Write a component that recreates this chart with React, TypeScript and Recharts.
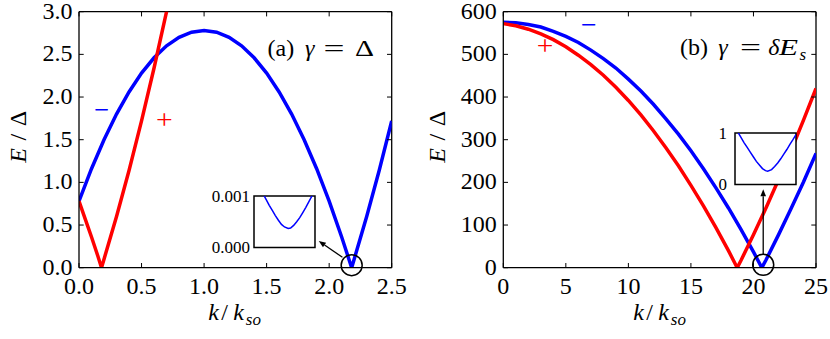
import React from 'react'
import { LineChart, Line, XAxis, YAxis, ReferenceLine, ReferenceDot, ReferenceArea } from 'recharts'

const FONT = '"Liberation Serif", "Times New Roman", serif'
const BLUE = '#0000ff'
const RED = '#ff0000'

// panel (a): gamma = Delta
const kAminus = [0, 0.1, 0.2, 0.3, 0.4, 0.5, 0.6, 0.7, 0.8, 0.9, 1.0, 1.1, 1.2, 1.3, 1.4, 1.5, 1.6, 1.7, 1.8, 1.9, 2.0, 2.1, 2.18, 2.2, 2.3, 2.4, 2.5]
const eAminus = [0.78, 1.16, 1.5, 1.8, 2.06, 2.28, 2.46, 2.6, 2.7, 2.76, 2.78, 2.76, 2.7, 2.6, 2.46, 2.28, 2.06, 1.8, 1.5, 1.16, 0.78, 0.36, 0.0, 0.1, 0.6, 1.14, 1.72]
const kAplus = [0, 0.05, 0.1, 0.15, 0.18, 0.2, 0.3, 0.4, 0.5, 0.6, 0.7, 0.8]
const eAplus = [0.78, 0.57, 0.36, 0.14, 0.0, 0.1, 0.6, 1.14, 1.72, 2.34, 3.0, 3.7]
const ticksAx = [0, 0.5, 1, 1.5, 2, 2.5]
const ticksAy = [0, 0.5, 1, 1.5, 2, 2.5, 3]

// panel (b): gamma = delta E_s
const kBminus = [0, 1, 2, 3, 4, 5, 6, 7, 8, 9, 10, 11, 12, 13, 14, 15, 16, 17, 18, 19, 20, 20.67, 21, 22, 23, 24, 25]
const eBminus = [575, 574, 570, 564, 554, 542, 528, 510, 490, 468, 442, 414, 383, 349, 313, 274, 232, 187, 140, 90, 37, 0, 18, 77, 138, 201, 268]
const kBplus = [0, 1, 2, 3, 4, 5, 6, 7, 8, 9, 10, 11, 12, 13, 14, 15, 16, 17, 18, 18.7, 19, 20, 21, 22, 23, 24, 25]
const eBplus = [572, 567, 559, 548, 534.5, 518, 498, 476, 451, 423, 392, 358, 321, 281, 239, 193, 145, 94, 40, 0, 17, 77, 140, 206, 274, 346, 420]
const ticksBx = [0, 5, 10, 15, 20, 25]
const ticksBy = [0, 100, 200, 300, 400, 500, 600]

// insets: zoom on the gap (x in arbitrary units across the inset)
const insetAx = [10, 15, 20, 25, 30, 35, 40, 45, 50, 56, 60, 65, 70, 75, 80, 85, 90, 95, 100]
const insetAE = [0.00115, 0.00104, 0.00093, 0.00082, 0.00072, 0.00062, 0.00053, 0.00045, 0.0004, 0.00037, 0.00038, 0.00043, 0.0005, 0.00058, 0.00068, 0.00078, 0.00089, 0.001, 0.00111]
const insetBx = [5, 10, 15, 20, 25, 30, 35, 40, 45, 50, 53.5, 60, 65, 70, 75, 80, 85, 90, 95, 100]
const insetBE = [1.01, 0.91, 0.81, 0.72, 0.63, 0.54, 0.45, 0.38, 0.31, 0.27, 0.26, 0.29, 0.35, 0.42, 0.5, 0.59, 0.68, 0.78, 0.87, 0.97]

// annotations (data coordinates)
const circleA = { x: 2.18, y: 0.03 }
const arrowA = [{ x: 2.106, y: 0.122 }, { x: 1.917, y: 0.313 }]
const circleB = { x: 20.78, y: 6.8 }
const arrowB = [{ x: 20.78, y: 32 }, { x: 20.78, y: 184 }]

const toRows = (ks: number[], es: number[]) => ks.map((k, i) => ({ k, E: es[i] }))

const W = 415
const H = 339
const TOP = 11.7
const PLOT_W = 312.7
const PLOT_H = 256
const TICK = 4.7

function XTick(props: any) {
  const { x, y, payload, fmt } = props
  return (
    <g>
      <line x1={x} y1={y} x2={x} y2={y - TICK} stroke="#000" strokeWidth={1} />
      <line x1={x} y1={y - PLOT_H} x2={x} y2={y - PLOT_H + TICK} stroke="#000" strokeWidth={1} />
      <text x={x} y={y + 26.6} textAnchor="middle" fontFamily={FONT} fontSize={24} fill="#000">
        {fmt(payload.value)}
      </text>
    </g>
  )
}

function YTick(props: any) {
  const { x, y, payload, fmt } = props
  return (
    <g>
      <line x1={x} y1={y} x2={x + TICK} y2={y} stroke="#000" strokeWidth={1} />
      <line x1={x + PLOT_W} y1={y} x2={x + PLOT_W - TICK} y2={y} stroke="#000" strokeWidth={1} />
      <text x={x - 6.5} y={y + 7} textAnchor="end" fontFamily={FONT} fontSize={24} fill="#000">
        {fmt(payload.value)}
      </text>
    </g>
  )
}

function Arrow(props: any) {
  const { x1, y1, x2, y2 } = props
  const dx = x2 - x1
  const dy = y2 - y1
  const len = Math.hypot(dx, dy) || 1
  const ux = dx / len
  const uy = dy / len
  const hl = 7
  const hw = 2.8
  const bx = x2 - ux * hl
  const by = y2 - uy * hl
  return (
    <g>
      <line x1={x1} y1={y1} x2={bx} y2={by} stroke="#000" strokeWidth={1.3} />
      <polygon points={`${x2},${y2} ${bx - uy * hw},${by + ux * hw} ${bx + uy * hw},${by - ux * hw}`} fill="#000" />
    </g>
  )
}

interface PanelProps {
  minus: { k: number; E: number }[]
  plus: { k: number; E: number }[]
  xTicks: number[]
  yTicks: number[]
  yAxisWidth: number
  fmt: (v: number) => string
  circle: { x: number; y: number }
  arrow: { x: number; y: number }[]
}

function Panel({ minus, plus, xTicks, yTicks, yAxisWidth, fmt, circle, arrow }: PanelProps) {
  const xMax = xTicks[xTicks.length - 1]
  const yMax = yTicks[yTicks.length - 1]
  return (
    <LineChart width={W} height={H} margin={{ top: TOP, right: W - yAxisWidth - PLOT_W, bottom: 0, left: 0 }}>
      <XAxis
        type="number"
        dataKey="k"
        domain={[0, xMax]}
        ticks={xTicks}
        interval={0}
        allowDataOverflow
        height={H - TOP - PLOT_H}
        tickSize={0}
        tickMargin={0}
        tickLine={false}
        axisLine={{ stroke: '#000', strokeWidth: 1.3 }}
        tick={(p: any) => <XTick {...p} fmt={fmt} />}
      />
      <YAxis
        type="number"
        domain={[0, yMax]}
        ticks={yTicks}
        interval={0}
        allowDataOverflow
        width={yAxisWidth}
        tickSize={0}
        tickMargin={0}
        tickLine={false}
        axisLine={{ stroke: '#000', strokeWidth: 1.3 }}
        tick={(p: any) => <YTick {...p} fmt={fmt} />}
      />
      <ReferenceLine y={yMax} stroke="#000" strokeWidth={1.3} />
      <ReferenceLine x={xMax} stroke="#000" strokeWidth={1.3} />
      <Line data={minus} dataKey="E" type="linear" stroke={BLUE} strokeWidth={3.5} dot={false} isAnimationActive={false} />
      <Line data={plus} dataKey="E" type="linear" stroke={RED} strokeWidth={3.5} dot={false} isAnimationActive={false} />
      <ReferenceDot x={circle.x} y={circle.y} r={10.5} fill="none" stroke="#000" strokeWidth={1.5} />
      <ReferenceLine segment={arrow} stroke="#000" shape={Arrow} />
    </LineChart>
  )
}

interface InsetProps {
  left: number
  top: number
  rows: { x: number; E: number }[]
  yTicks: number[]
  labelWidth: number
  gap: number
  fmt: (v: number) => string
}

const INSET_W = 61
const INSET_H = 51.6

function Inset({ left, top, rows, yTicks, labelWidth, gap, fmt }: InsetProps) {
  const yMax = yTicks[yTicks.length - 1]
  return (
    <>
      <div style={{ position: 'absolute', left, top, width: INSET_W, height: INSET_H, background: '#fff' }} />
      <div style={{ position: 'absolute', left: left - labelWidth, top: top - 10 }}>
        <LineChart width={labelWidth + INSET_W + 2} height={INSET_H + 20} margin={{ top: 10, right: 2, bottom: 10, left: 0 }}>
          <XAxis type="number" dataKey="x" domain={[0, 100]} hide allowDataOverflow />
          <YAxis
            type="number"
            domain={[0, yMax]}
            ticks={yTicks}
            interval={0}
            allowDataOverflow
            width={labelWidth}
            tickSize={0}
            tickMargin={0}
            tickLine={false}
            axisLine={false}
            tick={(p: any) => (
              <text x={p.x - gap} y={p.y + 5.7} textAnchor="end" fontFamily={FONT} fontSize={17} fill="#000">
                {fmt(p.payload.value)}
              </text>
            )}
          />
          <ReferenceArea x1={0} x2={100} y1={0} y2={yMax} fill="none" stroke="#000" strokeWidth={1.5} />
          <Line data={rows} dataKey="E" type="linear" stroke={BLUE} strokeWidth={1.5} dot={false} isAnimationActive={false} />
        </LineChart>
      </div>
    </>
  )
}

function KLabel({ x0 }: { x0: number }) {
  return (
    <text fontFamily={FONT} fontSize={24} fill="#000">
      <tspan x={x0} y={320} fontStyle="italic">k</tspan>
      <tspan x={x0 + 13} y={320}>/</tspan>
      <tspan x={x0 + 25} y={320} fontStyle="italic">k</tspan>
      <tspan x={x0 + 37.5} y={324.5} fontStyle="italic" fontSize={17}>so</tspan>
    </text>
  )
}

function ELabel({ x }: { x: number }) {
  return (
    <text transform={`translate(${x},136.7) rotate(-90)`} textAnchor="middle" fontFamily={FONT} fontSize={24} fill="#000" textLength={52} lengthAdjust="spacing">
      <tspan fontStyle="italic">E</tspan>/Δ
    </text>
  )
}

export default function App() {
  const rowsAminus = toRows(kAminus, eAminus)
  const rowsAplus = toRows(kAplus, eAplus)
  const rowsBminus = toRows(kBminus, eBminus)
  const rowsBplus = toRows(kBplus, eBplus)
  const insetA = insetAx.map((x, i) => ({ x, E: insetAE[i] }))
  const insetB = insetBx.map((x, i) => ({ x, E: insetBE[i] }))
  return (
    <div style={{ position: 'absolute', left: 0, top: 0, width: 830, height: 339, background: '#fff', overflow: 'hidden' }}>
      <div style={{ position: 'absolute', left: 0, top: 0 }}>
        <Panel minus={rowsAminus} plus={rowsAplus} xTicks={ticksAx} yTicks={ticksAy} yAxisWidth={79} fmt={(v) => v.toFixed(1)} circle={circleA} arrow={arrowA} />
      </div>
      <div style={{ position: 'absolute', left: 415, top: 0 }}>
        <Panel minus={rowsBminus} plus={rowsBplus} xTicks={ticksBx} yTicks={ticksBy} yAxisWidth={88.3} fmt={(v) => String(v)} circle={circleB} arrow={arrowB} />
      </div>
      <Inset left={254} top={195.7} rows={insetA} yTicks={[0, 0.001]} labelWidth={52} gap={4} fmt={(v) => v.toFixed(3)} />
      <Inset left={735} top={133} rows={insetB} yTicks={[0, 1]} labelWidth={30} gap={8} fmt={(v) => String(v)} />
      <svg width={830} height={339} style={{ position: 'absolute', left: 0, top: 0, pointerEvents: 'none' }}>
        <g fontFamily={FONT} fill="#000">
          <text x={267.5} y={56} fontSize={24}>(a)</text>
          <text x={305} y={56} fontSize={24} fontStyle="italic">γ</text>
          <text x={323.5} y={56} fontSize={24} textLength={21} lengthAdjust="spacingAndGlyphs">=</text>
          <text x={355} y={56} fontSize={24} textLength={19} lengthAdjust="spacingAndGlyphs">Δ</text>

          <text x={680} y={55} fontSize={24}>(b)</text>
          <text x={718.3} y={55} fontSize={24} fontStyle="italic">γ</text>
          <text x={740} y={55} fontSize={24} textLength={21} lengthAdjust="spacingAndGlyphs">=</text>
          <text x={768.3} y={55} fontSize={24} fontStyle="italic">δ</text>
          <text x={779} y={55} fontSize={24} fontStyle="italic" textLength={19} lengthAdjust="spacingAndGlyphs">E</text>
          <text x={799.5} y={59.5} fontSize={17} fontStyle="italic">s</text>
        </g>
        <text x={94.3} y={119.3} fontFamily={FONT} fontSize={28} fill={BLUE} textLength={15} lengthAdjust="spacingAndGlyphs">−</text>
        <text x={156} y={128.7} fontFamily={FONT} fontSize={28} fill={RED} textLength={16.7} lengthAdjust="spacingAndGlyphs">+</text>
        <text x={581} y={33.7} fontFamily={FONT} fontSize={28} fill={BLUE} textLength={15.7} lengthAdjust="spacingAndGlyphs">−</text>
        <text x={536.7} y={55.3} fontFamily={FONT} fontSize={28} fill={RED} textLength={16.6} lengthAdjust="spacingAndGlyphs">+</text>
        <ELabel x={26} />
        <ELabel x={445} />
        <KLabel x0={208.3} />
        <KLabel x0={633.3} />
      </svg>
    </div>
  )
}
